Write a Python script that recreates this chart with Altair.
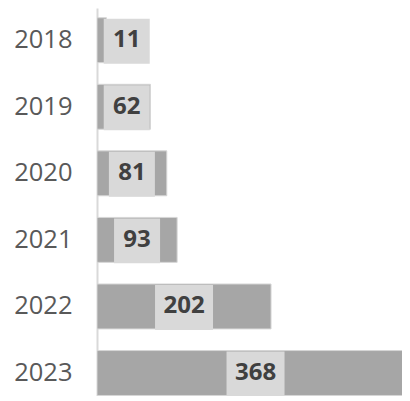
import altair as alt
import pandas as pd

years = ["2018", "2019", "2020", "2021", "2022", "2023"]
values = [11, 62, 81, 93, 202, 368]

df = pd.DataFrame({"year": years, "value": values})

FONT = "Open Sans"

y_scale = alt.Scale(paddingInner=0.325, paddingOuter=0.077, align=0.95)

y_enc = alt.Y(
    "year:N",
    sort=years,
    title=None,
    scale=y_scale,
    axis=alt.Axis(
        ticks=False,
        labelFont=FONT,
        labelFontSize=25.5,
        labelColor="#595959",
        labelPadding=25,
        domainColor="#d9d9d9",
        domainWidth=2,
        grid=False,
    ),
)

x_scale = alt.Scale(domain=[0, 354], nice=False, zero=True)

base = alt.Chart(df).transform_calculate(
    lx="max(datum.value / 2, 34.5)"
)

bars = base.mark_bar(color="#a6a6a6", stroke="#d6d6d6", strokeWidth=1, clip=True).encode(
    y=y_enc,
    x=alt.X("value:Q", scale=x_scale, axis=None),
)

box2 = base.transform_filter("datum.value < 100").mark_rect(
    color="#d9d9d9", xOffset=-23, x2Offset=23, yOffset=1, y2Offset=-1
).encode(
    y=alt.Y("year:N", sort=years),
    x=alt.X("lx:Q", scale=x_scale, axis=None),
    x2="lx:Q",
)

box3 = base.transform_filter("datum.value >= 100").mark_rect(
    color="#d9d9d9", xOffset=-29, x2Offset=29, yOffset=1, y2Offset=-1
).encode(
    y=alt.Y("year:N", sort=years),
    x=alt.X("lx:Q", scale=x_scale, axis=None),
    x2="lx:Q",
)

labels = base.mark_text(
    font=FONT, fontSize=24, fontWeight="bold", color="#404040", baseline="middle", align="center"
).encode(
    y=alt.Y("year:N", sort=years),
    x=alt.X("lx:Q", scale=x_scale, axis=None),
    text="value:Q",
)

chart = alt.layer(bars, box2, box3, labels).properties(
    width=305,
    height=388,
    autosize=alt.AutoSizeParams(type="none"),
    padding={"left": 89, "top": 0, "right": 0, "bottom": 0},
).configure(background="white").configure_view(stroke=None)

chart.save("out.html", embed_options={"renderer": "svg", "actions": False})
